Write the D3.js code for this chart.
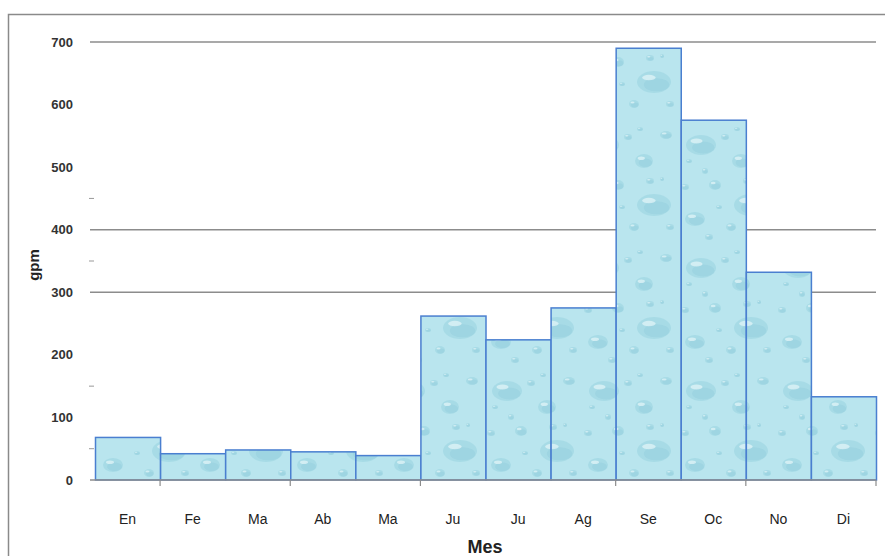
<!DOCTYPE html>
<html><head><meta charset="utf-8">
<script src="https://cdn.jsdelivr.net/npm/d3@7"></script>
<style>body{margin:0;background:#fff}svg{display:block}</style>
</head><body>
<script>
const categories = ["En","Fe","Ma","Ab","Ma","Ju","Ju","Ag","Se","Oc","No","Di"];
const values = [68, 42, 48, 45, 39, 262, 224, 275, 690, 575, 332, 133];
const yTickLabels = [0,100,200,300,400,500,600,700];
const gridValues = [300,400,700];
const minorTicks = [50,150,350,450];
const xTickAfter = [1,3,5,8,10,12];

const W=885,H=556;
const svg=d3.select("body").append("svg").attr("width",W).attr("height",H);
const m={l:95,r:9,t:42,b:76};
const x=d3.scaleBand().domain(d3.range(categories.length)).range([m.l,W-m.r]).padding(0);
const y=d3.scaleLinear().domain([0,700]).range([H-m.b,m.t]);

// frame
svg.append("rect").attr("x",8.5).attr("y",14.5).attr("width",W).attr("height",H-13).attr("fill","none").attr("stroke","#8a8a8a").attr("stroke-width",1.5);

// pattern
const defs=svg.append("defs");
const pat=defs.append("pattern").attr("id","drops").attr("patternUnits","userSpaceOnUse").attr("width",97).attr("height",123);
pat.append("rect").attr("width",97).attr("height",123).attr("fill","#b9e5ee");
const drops=[[22,22,15,10],[62,38,9,7],[36,62,6,5],[72,82,17,11],[16,96,10,7],[52,104,5,4],[84,12,6,4],[46,14,4,3],[26,48,3,3],[68,58,4,3],[6,64,4,3],[88,104,4,3],[40,84,3,2],[10,38,3,2],[58,6,3,2],[30,114,4,3],[80,56,2,2]];
drops.forEach(d=>{
  pat.append("ellipse").attr("cx",d[0]).attr("cy",d[1]).attr("rx",d[2]).attr("ry",d[3]).attr("fill","#98d2e0").attr("opacity",0.55);
  pat.append("ellipse").attr("cx",d[0]+d[2]*0.15).attr("cy",d[1]+d[3]*0.25).attr("rx",d[2]*0.75).attr("ry",d[3]*0.6).attr("fill","#8bc9da").attr("opacity",0.35);
  pat.append("ellipse").attr("cx",d[0]-d[2]*0.3).attr("cy",d[1]-d[3]*0.4).attr("rx",d[2]*0.4).attr("ry",d[3]*0.25).attr("fill","#eefafc").attr("opacity",0.6);
});

// gridlines
svg.append("g").selectAll("line").data(gridValues).join("line")
  .attr("x1",90).attr("x2",W-m.r).attr("y1",d=>y(d)).attr("y2",d=>y(d))
  .attr("stroke","#8c8c8c").attr("stroke-width",1.5);

// minor ticks
svg.append("g").selectAll("line").data(minorTicks).join("line")
  .attr("x1",89).attr("x2",94).attr("y1",d=>y(d)).attr("y2",d=>y(d))
  .attr("stroke","#999").attr("stroke-width",1);

// bars
svg.append("g").selectAll("rect").data(values).join("rect")
  .attr("x",(d,i)=>x(i)+0.5).attr("y",d=>y(d)).attr("width",x.bandwidth()).attr("height",d=>y(0)-y(d))
  .attr("fill","url(#drops)").attr("stroke","#4a7fd0").attr("stroke-width",1.5);

// x axis line
svg.append("line").attr("x1",90).attr("x2",W-m.r).attr("y1",y(0)).attr("y2",y(0)).attr("stroke","#8c8c8c").attr("stroke-width",1.5);
svg.append("g").selectAll("line").data(xTickAfter).join("line")
  .attr("x1",d=>x.range()[0]+d*x.step()).attr("x2",d=>x.range()[0]+d*x.step())
  .attr("y1",y(0)).attr("y2",y(0)+6).attr("stroke","#8c8c8c").attr("stroke-width",1.2);

// y tick labels
svg.append("g").selectAll("text").data(yTickLabels).join("text")
  .attr("x",73).attr("y",d=>y(d)+4.5).attr("text-anchor","end")
  .attr("font-family","Liberation Sans, Arial, sans-serif").attr("font-size",13).attr("font-weight","bold").attr("fill","#333")
  .text(d=>d);

// x labels
svg.append("g").selectAll("text").data(categories).join("text")
  .attr("x",(d,i)=>x(i)+x.bandwidth()/2).attr("y",524).attr("text-anchor","middle")
  .attr("font-family","Liberation Sans, Arial, sans-serif").attr("font-size",14).attr("fill","#222")
  .text(d=>d);

svg.append("text").attr("x",485).attr("y",553).attr("text-anchor","middle")
  .attr("font-family","Liberation Sans, Arial, sans-serif").attr("font-size",18).attr("font-weight","bold").attr("fill","#222").text("Mes");
svg.append("text").attr("transform","translate(39,265) rotate(-90)").attr("text-anchor","middle")
  .attr("font-family","Liberation Sans, Arial, sans-serif").attr("font-size",15).attr("font-weight","bold").attr("fill","#222").text("gpm");
</script>
</body></html>
